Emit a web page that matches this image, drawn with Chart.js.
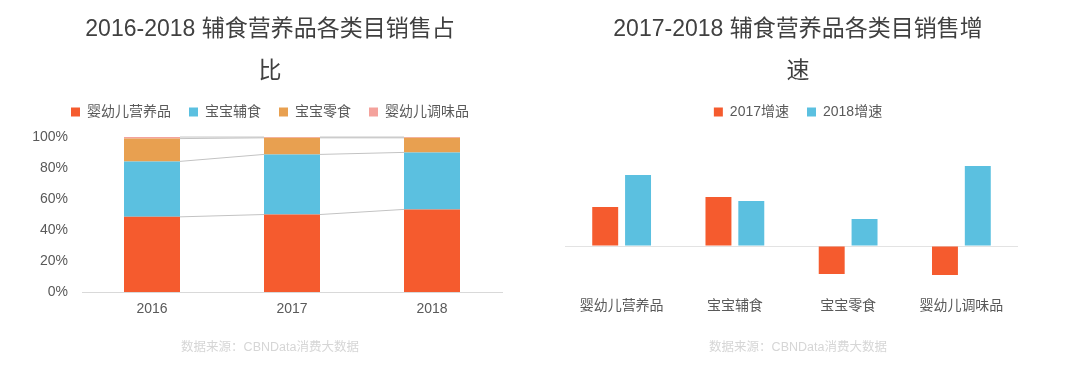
<!DOCTYPE html>
<html><head><meta charset="utf-8">
<script src="https://cdn.jsdelivr.net/npm/chart.js@4/dist/chart.umd.min.js"></script>
<style>
html,body{margin:0;padding:0;background:#fff;}
#wrap{display:flex;width:1080px;height:374px;}
.box{width:540px;height:374px;position:relative;}
</style></head><body>
<div id="wrap"><div class="box"><canvas id="c1" width="540" height="374"></canvas></div><div class="box"><canvas id="c2" width="540" height="374"></canvas></div></div>
<script>
const years = ['2016', '2017', '2018'];
const shareSeries = ['婴幼儿营养品', '宝宝辅食', '宝宝零食', '婴幼儿调味品'];
const shareNutrition = [48.5, 50, 53.3];
const shareFood = [35.8, 38.8, 36.8];
const shareSnack = [14.7, 10.7, 9.4];
const shareSeasoning = [1.0, 0.5, 0.5];
const shareTicks = [0, 20, 40, 60, 80, 100];

const growthCats = ['婴幼儿营养品', '宝宝辅食', '宝宝零食', '婴幼儿调味品'];
const growth2017 = [39, 49, -28, -29];
const growth2018 = [71, 45, 27, 80];
const growthNames = ['2017增速', '2018增速'];

const RED = '#F55B2E', BLUE = '#5BC0E0', ORANGE = '#E8A050', PINK = '#F4A29C';
const FONT = "'Liberation Sans','Noto Sans CJK SC',sans-serif";
Chart.defaults.font.family = FONT;
Chart.defaults.animation = false;

const seriesLines = {
  id: 'seriesLines',
  afterDatasetsDraw(chart) {
    const ctx = chart.ctx;
    ctx.save();
    ctx.strokeStyle = '#c3c3c3';
    ctx.lineWidth = 1;
    chart.data.datasets.forEach((ds, i) => {
      const meta = chart.getDatasetMeta(i);
      for (let j = 0; j < meta.data.length - 1; j++) {
        const a = meta.data[j], b = meta.data[j + 1];
        ctx.beginPath();
        ctx.moveTo(a.x + a.width / 2, a.y);
        ctx.lineTo(b.x - b.width / 2, b.y);
        ctx.stroke();
      }
    });
    ctx.restore();
  }
};

const titleOpts = (lines) => ({
  display: true, text: lines, color: '#404040',
  font: { size: 23, weight: 'normal', lineHeight: 42 / 23 },
  padding: { top: 9, bottom: -6 }
});
const subOpts = {
  display: true, position: 'bottom', text: '数据来源：CBNData消费大数据', color: '#d6d6d6',
  font: { size: 12.5, weight: 'normal', lineHeight: 1.2 }, padding: { top: 0, bottom: 19 }
};
const legendOpts = {
  position: 'top',
  labels: { color: '#595959', font: { size: 14 }, boxWidth: 9, boxHeight: 9, padding: 18 }
};

new Chart(document.getElementById('c1'), {
  type: 'bar',
  data: {
    labels: years,
    datasets: [
      { label: shareSeries[0], data: shareNutrition, backgroundColor: RED },
      { label: shareSeries[1], data: shareFood, backgroundColor: BLUE },
      { label: shareSeries[2], data: shareSnack, backgroundColor: ORANGE },
      { label: shareSeries[3], data: shareSeasoning, backgroundColor: PINK }
    ]
  },
  options: {
    responsive: false,
    layout: { padding: 0 },
    plugins: {
      title: titleOpts(['2016-2018 辅食营养品各类目销售占', '比']),
      subtitle: subOpts,
      legend: legendOpts,
      tooltip: { enabled: false }
    },
    datasets: { bar: { categoryPercentage: 1, barPercentage: 0.4 } },
    scales: {
      x: {
        stacked: true,
        grid: { display: false, drawTicks: false },
        border: { display: true, color: '#d9d9d9' },
        ticks: { color: '#595959', font: { size: 14 }, padding: 9 },
        afterFit(s) { s.height = 48; }
      },
      y: {
        stacked: true, min: 0, max: 105.2,
        afterBuildTicks(s) { s.ticks = shareTicks.map(v => ({ value: v })); },
        grid: { display: false, drawTicks: false },
        border: { display: false },
        ticks: { color: '#595959', font: { size: 14 }, padding: 14, callback: v => v + '%' },
        afterFit(s) { s.width = 82; }
      },
      yr: {
        position: 'right', display: true,
        grid: { display: false, drawTicks: false }, border: { display: false },
        ticks: { display: false },
        afterFit(s) { s.width = 38; }
      }
    }
  },
  plugins: [seriesLines]
});

new Chart(document.getElementById('c2'), {
  type: 'bar',
  data: {
    labels: growthCats,
    datasets: [
      { label: growthNames[0], data: growth2017, backgroundColor: RED },
      { label: growthNames[1], data: growth2018, backgroundColor: BLUE }
    ]
  },
  options: {
    responsive: false,
    layout: { padding: { left: 0, right: 24, top: 0, bottom: 0 } },
    plugins: {
      title: titleOpts(['2017-2018 辅食营养品各类目销售增', '速']),
      subtitle: subOpts,
      legend: legendOpts,
      tooltip: { enabled: false }
    },
    datasets: { bar: { categoryPercentage: 0.58, barPercentage: 0.79 } },
    scales: {
      x: {
        grid: { display: false, drawTicks: false },
        border: { display: false },
        ticks: { color: '#595959', font: { size: 14 }, padding: 8 },
        afterFit(s) { s.height = 50; }
      },
      y: {
        min: -44, max: 117,
        grid: { drawTicks: false, color: c => c.tick.value === 0 ? '#e3e3e3' : 'rgba(0,0,0,0)' },
        border: { display: false },
        ticks: { display: false },
        afterBuildTicks(s) { s.ticks = [{ value: 0 }]; },
        afterFit(s) { s.width = 25; }
      },
      yr: {
        position: 'right', display: true,
        grid: { display: false, drawTicks: false }, border: { display: false },
        ticks: { display: false },
        afterFit(s) { s.width = 38; }
      }
    }
  }
});
</script>
</body></html>
